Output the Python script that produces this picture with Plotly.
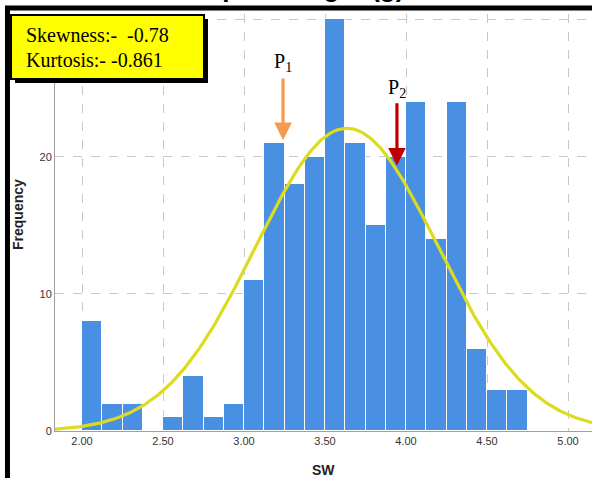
import numpy as np
import plotly.graph_objects as go

# ---- data ----
bin_start = [2.000, 2.125, 2.250, 2.375, 2.500, 2.625, 2.750, 2.875, 3.000, 3.125, 3.250,
             3.375, 3.500, 3.625, 3.750, 3.875, 4.000, 4.125, 4.250, 4.375, 4.500, 4.625]
counts = [8, 2, 2, 0, 1, 4, 1, 2, 11, 21, 18, 20, 30, 21, 15, 20, 24, 14, 24, 6, 3, 3]
bin_width = 0.125
fit_mean = 3.635
fit_sd = 0.565
x_ticks = [2.0, 2.5, 3.0, 3.5, 4.0, 4.5, 5.0]
x_tick_labels = ["2.00", "2.50", "3.00", "3.50", "4.00", "4.50", "5.00"]
y_ticks = [0, 10, 20, 30]
y_tick_labels = ["0", "10", "20", "30"]
stats_lines = ["Skewness:-\u00a0\u00a0-0.78", "Kurtosis:- -0.861"]
peaks = [
    {"label": "P<sub>1</sub>", "x": 3.241, "tail": 25.8, "head": 21.2, "color": "#F79A4E", "label_y": 26.9},
    {"label": "P<sub>2</sub>", "x": 3.944, "tail": 24.0, "head": 19.35, "color": "#C00000", "label_y": 25.0},
]
title_text = "Spike weight (g)"

x_range = [1.8333, 5.148]
y_range = [0, 30.4]

bar_x = [b + bin_width / 2 for b in bin_start]
n_total = sum(counts)
curve_x = np.linspace(x_range[0], x_range[1], 400)
curve_y = n_total * bin_width / (fit_sd * np.sqrt(2 * np.pi)) * np.exp(-0.5 * ((curve_x - fit_mean) / fit_sd) ** 2)

fig = go.Figure()
fig.add_trace(go.Bar(x=bar_x, y=counts, width=bin_width,
                     marker=dict(color="#4A90E2", line=dict(color="white", width=1)),
                     hoverinfo="x+y"))
fig.add_trace(go.Scatter(x=curve_x, y=curve_y, mode="lines",
                         line=dict(color="#DCDC1E", width=3.2), hoverinfo="skip"))

serif = "Liberation Serif"
sans = "Liberation Sans"

annotations = []
for p in peaks:
    annotations.append(dict(x=p["x"], y=p["head"], ax=p["x"], ay=p["tail"], axref="x", ayref="y",
                            xref="x", yref="y", text="", showarrow=True, arrowhead=2,
                            arrowsize=1.1, arrowwidth=3.2, arrowcolor=p["color"]))
    annotations.append(dict(x=p["x"], y=p["label_y"], xref="x", yref="y", text=p["label"],
                            xanchor="center", yanchor="middle",
                            showarrow=False, font=dict(family=serif, size=20, color="black")))

annotations.append(dict(x=-0.0577, y=0.9496, xref="paper", yref="paper", xanchor="left", yanchor="middle",
                        text=stats_lines[0], showarrow=False,
                        font=dict(family=serif, size=20, color="black")))
annotations.append(dict(x=-0.0577, y=0.8897, xref="paper", yref="paper", xanchor="left", yanchor="middle",
                        text=stats_lines[1], showarrow=False,
                        font=dict(family=serif, size=20, color="black")))
annotations.append(dict(x=-0.0689, y=0.518, xref="paper", yref="paper", textangle=-90,
                        xanchor="center", yanchor="middle",
                        text="<b>Frequency</b>", showarrow=False,
                        font=dict(family=sans, size=14, color="#222")))
annotations.append(dict(x=0.5, y=-0.0935, xref="paper", yref="paper",
                        xanchor="center", yanchor="middle",
                        text="<b>SW</b>", showarrow=False,
                        font=dict(family=sans, size=14, color="#222")))
annotations.append(dict(x=0.465, y=1.0216, xref="paper", yref="paper", xanchor="center", yanchor="bottom",
                        text="<b>" + title_text + "</b>", showarrow=False,
                        font=dict(family=sans, size=26, color="black")))

shapes = [
    # box shadow
    dict(type="rect", xref="paper", yref="paper", x0=-0.0745, x1=0.2849, y0=0.8345, y1=0.988,
         fillcolor="black", line=dict(width=0), layer="above"),
    # yellow box
    dict(type="rect", xref="paper", yref="paper", x0=-0.0819, x1=0.2775, y0=0.8441, y1=0.9976,
         fillcolor="#FFFF00", line=dict(color="black", width=2), layer="above"),
    # thick frame lines (left + top)
    dict(type="path", xref="paper", yref="paper",
         path="M -0.0885 -0.2 L -0.0885 1.0144 L 1.05 1.0144",
         line=dict(color="black", width=5), layer="above"),
]

fig.update_layout(
    width=592, height=478,
    margin=dict(l=55, r=0, t=14, b=47, autoexpand=False),
    paper_bgcolor="white", plot_bgcolor="white",
    showlegend=False, bargap=0,
    annotations=annotations, shapes=shapes,
    xaxis=dict(range=x_range, tickvals=x_ticks, ticktext=x_tick_labels,
               showgrid=True, gridcolor="#C8C8C8", griddash="dash", gridwidth=1,
               showline=True, linecolor="#A0A0A0", linewidth=1, zeroline=False,
               ticks="", tickfont=dict(family=sans, size=11, color="#333")),
    yaxis=dict(range=y_range, tickvals=y_ticks, ticktext=y_tick_labels,
               showgrid=True, gridcolor="#C8C8C8", griddash="dash", gridwidth=1,
               showline=True, linecolor="#A0A0A0", linewidth=1, zeroline=False,
               ticks="", tickfont=dict(family=sans, size=11, color="#333")),
)

fig.write_html("out.html", config={"displayModeBar": False},
               post_script="document.body.style.margin='0px';document.body.style.padding='0px';")
